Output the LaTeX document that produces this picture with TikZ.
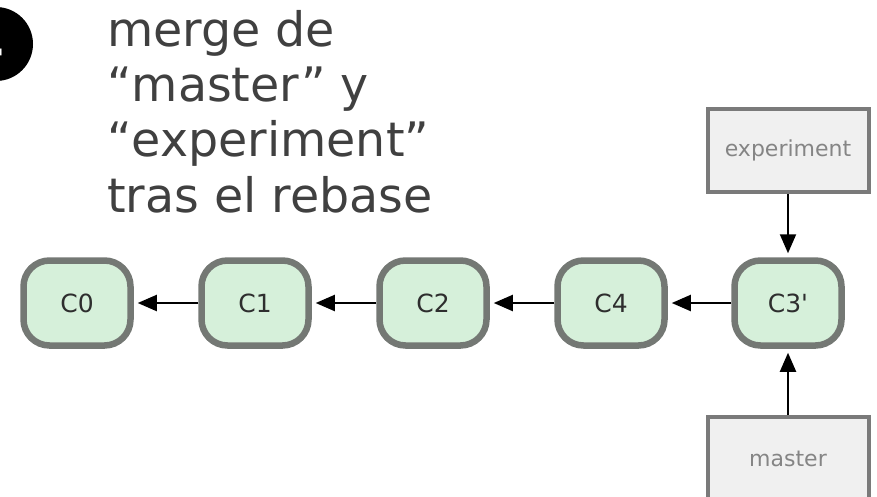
\documentclass[tikz,border=0pt]{standalone}
\usepackage{fontspec}
\setmainfont{DejaVu Sans}
% same face without TeX ligatures, so that ' stays a straight quote
\newfontfamily\labelfont{DejaVu Sans}
\usetikzlibrary{arrows.meta}
\definecolor{titlegray}{HTML}{404040}
\definecolor{commitfill}{HTML}{D6F0DA}
\definecolor{commitedge}{HTML}{747874}
\definecolor{commitink}{HTML}{2E2E2E}
\definecolor{reffill}{HTML}{F0F0F0}
\definecolor{refedge}{HTML}{7A7A7A}
\definecolor{refink}{HTML}{858585}
\tikzset{
  commit/.style={draw=commitedge, fill=commitfill, line width=6.5pt,
    rounded corners=26pt, minimum width=107pt, minimum height=85pt,
    inner sep=0pt, text=commitink, font=\labelfont\fontsize{25}{30}\selectfont},
  branchref/.style={draw=refedge, fill=reffill, line width=4pt,
    minimum width=161pt, minimum height=83pt, inner sep=0pt,
    text=refink, font=\labelfont\fontsize{22}{26}\selectfont},
  parent/.style={line width=2pt, draw=black,
    -{Triangle[length=19pt,width=16pt]}, shorten >=4pt}
}
\begin{document}
\begin{tikzpicture}[x=1pt,y=-1pt]
  \useasboundingbox (0,0) rectangle (877,496);

  % step marker and caption
  \fill[black] (-4,44) circle[radius=37pt];
  \node[text=white, font=\bfseries\fontsize{50}{50}\selectfont] (stepno) at (-13,44) {4};
  \node[anchor=base west, align=left, text=titlegray, inner sep=0pt,
        font=\fontsize{47.5}{55.3}\selectfont] (caption) at (107,212)
    {merge de\\“master” y\\“experiment”\\tras el rebase};

  % commit history
  \node[commit] (c0) at (77,303) {C0};
  \node[commit] (c1) at (255,303) {C1};
  \node[commit] (c2) at (433,303) {C2};
  \node[commit] (c4) at (611,303) {C4};
  \node[commit] (c3p) at (788,303) {C3'};

  % branch pointers
  \node[branchref] (experiment) at (788,150.5) {experiment};
  \node[branchref] (master) at (788,458.5) {master};

  % parent links
  \draw[parent] (c1.west) -- (c0.east);
  \draw[parent] (c2.west) -- (c1.east);
  \draw[parent] (c4.west) -- (c2.east);
  \draw[parent] (c3p.west) -- (c4.east);
  \draw[parent] (experiment.south) -- (c3p.north);
  \draw[parent] (master.north) -- (c3p.south);
\end{tikzpicture}
\end{document}
